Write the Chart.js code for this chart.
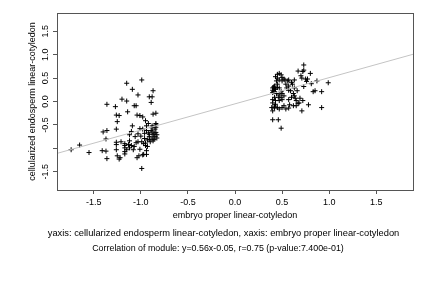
<!DOCTYPE html>
<html>
<head>
<meta charset="utf-8">
<script src="https://cdn.jsdelivr.net/npm/chart.js@4"></script>
<style>
  body { margin: 0; background: #fff; }
  canvas { display: block; }
</style>
</head>
<body>
<canvas id="chart" width="432" height="288"></canvas>
<script>
// embryo proper (x) vs cellularized endosperm (y), linear-cotyledon
const embryoX = [
  -1.74, -1.65, -1.55, -1.41, -1.37, -1.36, -1.40, -1.36, -1.37, -1.36,
  -1.27, -1.26, -1.23, -1.25, -1.26, -1.26, -1.26, -1.26, -1.25, -1.23,
  -1.22, -1.21, -1.20, -1.15, -1.15, -1.14, -1.09, -1.07, -1.05, -1.03,
  -1.04, -1.01, -0.99, -0.98, -0.95, -0.92, -0.91, -0.88, -0.87, -0.89,
  -0.87, -0.84, -0.84, -0.88, -1.09, -1.10, -1.03, -0.98, -1.17, -1.17,
  -1.17, -1.17, -1.17, -1.15, -1.12, -1.12, -1.13, -1.10, -1.07, -1.05,
  -1.08, -1.04, -1.02, -1.03, -1.01, -0.98, -0.97, -0.94, -0.99, -0.99,
  -0.95, -0.94, -0.93, -0.93, -0.90, -0.91, -0.92, -0.91, -0.89, -0.88,
  -0.87, -0.86, -0.85, -0.83, -0.88, -0.86, -0.91, -0.84, -0.85, -0.88,
  -0.84, -0.83, -0.87, -0.94, -0.94, -0.96, -1.00, -0.96, -1.06, -1.01,
  -0.84, -0.97, -0.95, -1.12,
  0.73, 0.73, 0.72, 0.67, 0.80, 0.70, 0.71, 0.75, 0.77, 0.87,
  0.99, 0.81, 0.73, 0.83, 0.85, 0.92, 0.92, 0.78, 0.71, 0.67,
  0.65, 0.62, 0.58, 0.57, 0.54, 0.52, 0.50, 0.45, 0.42, 0.40,
  0.40, 0.46, 0.49, 0.43, 0.45, 0.47, 0.49, 0.50, 0.52, 0.53,
  0.56, 0.57, 0.60, 0.63, 0.61, 0.44, 0.47, 0.45, 0.42, 0.40,
  0.40, 0.41, 0.43, 0.45, 0.47, 0.49, 0.50, 0.52, 0.49, 0.46,
  0.42, 0.40, 0.43, 0.47, 0.50, 0.55, 0.57, 0.59, 0.62, 0.63,
  0.64, 0.60, 0.57, 0.65, 0.68, 0.40, 0.43, 0.42, 0.41, 0.42,
  0.40, 0.44, 0.47, 0.45, 0.50, 0.54, 0.57, 0.63, 0.66, 0.76,
  0.69, 0.72, 0.39, 0.47
];
const endospermY = [
  -1.03, -0.93, -1.09, -1.05, -1.06, -1.22, -0.65, -0.62, -0.80, -0.06,
  -0.11, -0.29, -0.30, -0.43, -0.59, -0.87, -0.92, -1.03, -1.16, -1.23,
  -1.20, -0.86, 0.05, 0.39, 0.01, -0.22, 0.26, -0.09, -0.09, 0.14,
  -0.29, -0.30, 0.46, -0.33, -0.41, -0.47, 0.10, 0.10, 0.23, -0.02,
  -0.27, -0.25, -0.47, -0.52, -0.52, -0.64, -0.69, -0.59, -0.90, -0.94,
  -0.99, -1.07, -1.12, -1.03, -0.99, -0.84, -0.92, -0.94, -0.96, -0.88,
  -1.03, -1.20, -1.16, -0.86, -1.02, -1.14, -1.13, -1.13, -1.43, -0.86,
  -0.94, -1.05, -0.96, -0.82, -0.86, -0.75, -0.67, -0.70, -0.62, -0.65,
  -0.71, -0.69, -0.75, -0.78, -0.78, -0.81, -0.81, -0.66, -0.59, -0.56,
  -0.55, -0.71, -0.84, -0.62, -0.52, -0.68, -0.74, -0.79, -0.75, -0.58,
  -0.50, -0.90, -0.89, -0.71,
  0.78, 0.67, 0.64, 0.65, 0.60, 0.55, 0.50, 0.48, 0.48, 0.44,
  0.40, 0.38, 0.32, 0.21, 0.23, 0.21, -0.13, -0.07, -0.20, -0.04,
  -0.09, -0.09, -0.07, -0.14, -0.16, -0.09, -0.13, -0.13, -0.14, -0.20,
  -0.39, -0.39, -0.57, 0.53, 0.58, 0.60, 0.57, 0.51, 0.48, 0.46,
  0.44, 0.46, 0.41, 0.46, 0.37, 0.44, 0.46, 0.37, 0.33, 0.29,
  0.24, 0.21, 0.26, 0.30, 0.29, 0.21, 0.17, 0.12, 0.09, 0.09,
  0.09, 0.04, 0.02, 0.02, 0.04, 0.29, 0.24, 0.23, 0.17, 0.12,
  0.07, 0.09, 0.04, 0.02, -0.03, -0.03, -0.06, -0.10, 0.31, 0.27,
  0.19, 0.17, 0.14, 0.50, 0.44, 0.37, 0.33, 0.29, 0.23, 0.43,
  0.07, 0.02, -0.13, -0.16
];

// fitted line from the caption: y = 0.56x - 0.05
const fitSlope = 0.56;
const fitIntercept = -0.05;

const axisLimit = 1.89;
const tickValues = [-1.5, -1, -0.5, 0, 0.5, 1, 1.5];
const xTickLabels = ['-1.5', '-1.0', '-0.5', '0.0', '0.5', '1.0', '1.5'];
const yTickLabels = ['-1.5', '', '-0.5', '0.0', '0.5', '1.0', '1.5'];

const xTitle = 'embryo proper linear-cotyledon';
const yTitle = 'cellularized endosperm linear-cotyledon';
const captionLines = [
  'yaxis: cellularized endosperm linear-cotyledon, xaxis: embryo proper linear-cotyledon',
  'Correlation of module: y=0.56x-0.05, r=0.75 (p-value:7.400e-01)'
];

const points = embryoX.map((x, i) => ({ x: x, y: endospermY[i] }));
const fitLine = [-axisLimit, axisLimit].map(x => ({ x: x, y: fitSlope * x + fitIntercept }));

const fontFamily = '"Liberation Sans", Arial, sans-serif';
Chart.defaults.font.family = fontFamily;
Chart.defaults.font.size = 9;
Chart.defaults.color = '#000';

// draws a caption line centred at cx, sized so it spans roughly `width` px
function fitText(ctx, text, cx, cy, width) {
  ctx.font = '9px ' + fontFamily;
  let size = 9 * width / ctx.measureText(text).width;
  size = Math.max(8, Math.min(10, size));
  ctx.font = size.toFixed(2) + 'px ' + fontFamily;
  ctx.fillText(text, cx, cy);
}

// box around the plot and the two caption lines underneath
const framePlugin = {
  id: 'frame',
  afterDraw(chart) {
    const { ctx, chartArea } = chart;
    ctx.save();
    ctx.strokeStyle = '#555';
    ctx.lineWidth = 1;
    ctx.strokeRect(Math.round(chartArea.left) + 0.5, Math.round(chartArea.top) + 0.5,
      Math.round(chartArea.right - chartArea.left), Math.round(chartArea.bottom - chartArea.top));
    ctx.fillStyle = '#000';
    ctx.textAlign = 'center';
    ctx.textBaseline = 'middle';
    fitText(ctx, captionLines[0], 223.5, 233, 352);
    fitText(ctx, captionLines[1], 218, 249, 252);
    ctx.restore();
  }
};

const ctx = document.getElementById('chart').getContext('2d');
const chart = new Chart(ctx, {
  type: 'scatter',
  data: {
    datasets: [
      {
        data: points,
        pointStyle: 'cross',
        radius: 2.5,
        borderColor: '#000',
        borderWidth: 1,
        order: 2
      },
      {
        type: 'line',
        data: fitLine,
        borderColor: '#c4c4c4',
        borderWidth: 1,
        pointRadius: 0,
        fill: false,
        order: 1
      }
    ]
  },
  options: {
    responsive: false,
    animation: false,
    events: [],
    layout: { autoPadding: false, padding: { left: 0, top: 13, right: 19, bottom: 66 } },
    plugins: { legend: { display: false }, tooltip: { enabled: false } },
    scales: {
      x: {
        type: 'linear',
        min: -axisLimit,
        max: axisLimit,
        afterBuildTicks: s => { s.ticks = tickValues.map(v => ({ value: v })); },
        afterFit: s => { s.height = 32; },
        ticks: {
          padding: 3,
          maxRotation: 0,
          callback: (v, i) => xTickLabels[i]
        },
        grid: { drawOnChartArea: false, tickLength: 4, color: '#555' },
        border: { display: false },
        title: { display: true, text: xTitle, padding: { top: 0, bottom: 1 } }
      },
      y: {
        type: 'linear',
        min: -axisLimit,
        max: axisLimit,
        afterBuildTicks: s => { s.ticks = tickValues.map(v => ({ value: v })); },
        afterFit: s => { s.width = 57; },
        ticks: {
          padding: 0,
          minRotation: 90,
          maxRotation: 90,
          crossAlign: 'center',
          callback: (v, i) => yTickLabels[i]
        },
        grid: { drawOnChartArea: false, tickLength: 4, color: '#555' },
        border: { display: false },
        title: { display: true, text: yTitle, padding: { top: 27, bottom: 0 } }
      }
    }
  },
  plugins: [framePlugin]
});
</script>
</body>
</html>
